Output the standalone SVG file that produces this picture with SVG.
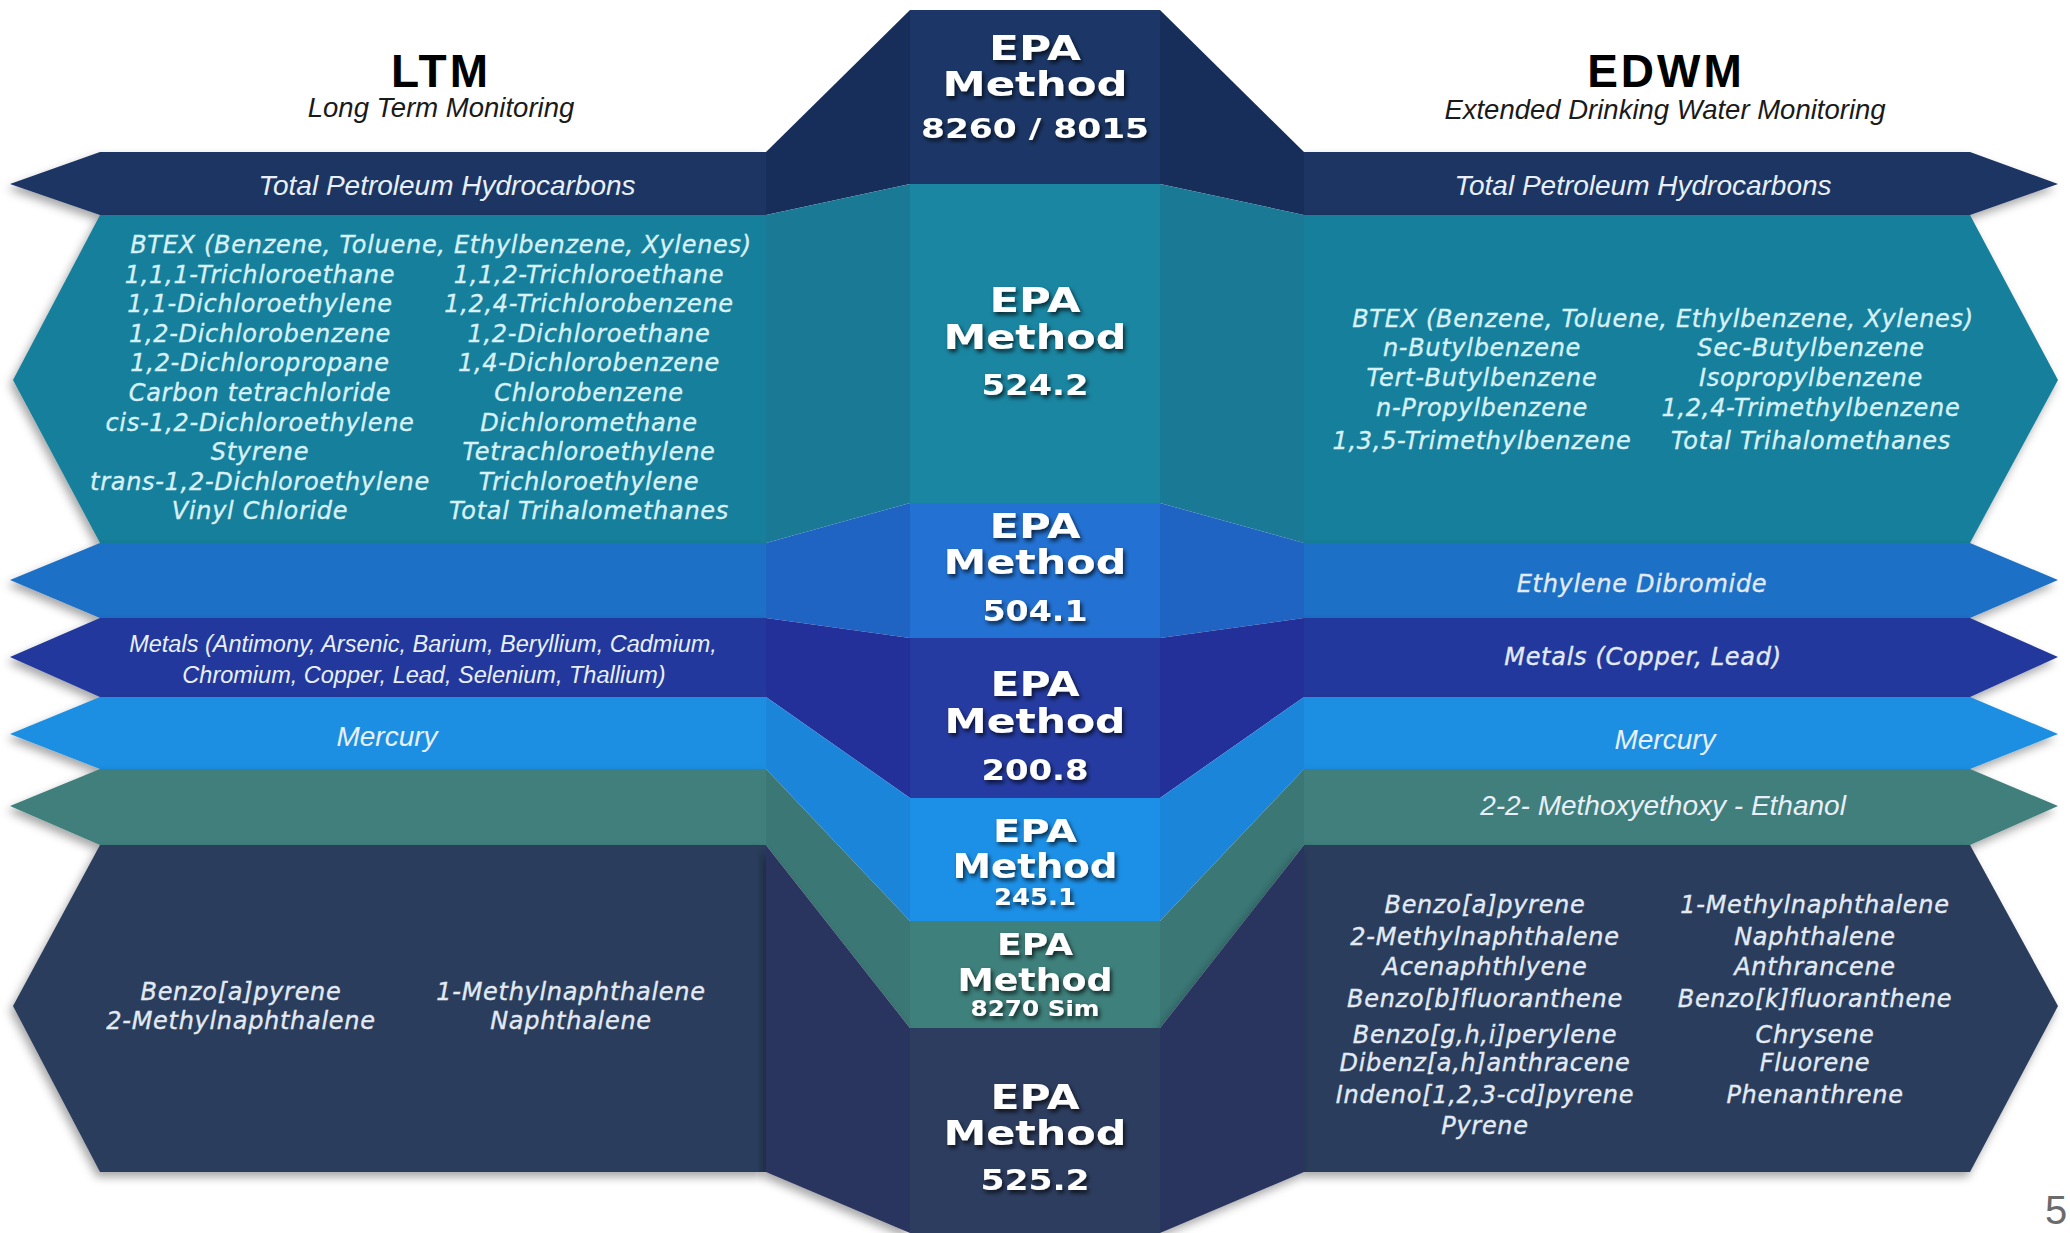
<svg xmlns="http://www.w3.org/2000/svg" width="2070" height="1233" viewBox="0 0 2070 1233">
<defs>
<filter id="bandShadow" x="-5%" y="-20%" width="110%" height="150%">
<feDropShadow dx="-3" dy="5" stdDeviation="5" flood-color="#000" flood-opacity="0.35"/>
</filter>
<filter id="txtShadow" x="-10%" y="-30%" width="125%" height="170%">
<feDropShadow dx="2" dy="3" stdDeviation="2" flood-color="#000" flood-opacity="0.7"/>
</filter>
<style>
.lst{font-family:"DejaVu Sans",Verdana,sans-serif;font-style:italic;font-size:24px;letter-spacing:0.7px;text-anchor:middle;fill:#d6f1f8;stroke:#d6f1f8;stroke-width:0.35px}
.lstd{font-family:"DejaVu Sans",Verdana,sans-serif;font-style:italic;font-size:24px;letter-spacing:0.7px;text-anchor:middle;fill:#e2eaf4;stroke:#e2eaf4;stroke-width:0.35px}
.lbl{font-family:"Liberation Sans",Arial,sans-serif;font-style:italic;font-size:28px;text-anchor:middle;fill:#e8eff8}
.ctr{font-family:"DejaVu Sans",Verdana,sans-serif;font-weight:bold;fill:#ffffff;text-anchor:middle;filter:url(#txtShadow)}
.title{font-family:"Liberation Sans",Arial,sans-serif;font-weight:bold;font-size:46px;fill:#000;text-anchor:middle;letter-spacing:3px}
.sub{font-family:"Liberation Sans",Arial,sans-serif;font-style:italic;font-size:27.5px;fill:#1a1a1a;text-anchor:middle}
.navy{fill:#1b3462}.navyS{fill:#172e5a}.navyC{fill:#1c3767}
.teal{fill:#197f9b}.tealS{fill:#1a7995}.tealC{fill:#1a86a2}
.blue{fill:#1e6fc6}.blueS{fill:#1f64c2}.blueC{fill:#2372d3}
.met{fill:#23389c}.metS{fill:#23309a}.metC{fill:#253ba1}
.merc{fill:#1a8fe2}.mercS{fill:#1b85da}.mercC{fill:#1c90e7}
.grn{fill:#3f7f7c}.grnS{fill:#3a7775}.grnC{fill:#3e807b}
.dark{fill:#2b3c5c}.darkS{fill:#2b365e}.darkC{fill:#2d3d5f}
.band{filter:url(#bandShadow)}
</style>
</defs>
<rect x="0" y="0" width="2070" height="1233" fill="#ffffff"/>

<g id="ltm-header">
<text class="title" x="441" y="87">LTM</text>
<text class="sub" x="441" y="117">Long Term Monitoring</text>
</g>
<g id="edwm-header">
<text class="title" x="1666" y="87">EDWM</text>
<text class="sub" x="1665" y="119">Extended Drinking Water Monitoring</text>
</g>

<g id="ltm-tph">
<polygon class="navy band" points="100,152 766,152 766,215 100,215 10,184"/>
<text class="lbl" x="447" y="195">Total Petroleum Hydrocarbons</text>
</g>
<g id="ltm-524">
<polygon class="teal band" points="100,215 766,215 766,543 100,543 13,380"/>
<text class="lst" x="441" y="253">BTEX (Benzene, Toluene, Ethylbenzene, Xylenes)</text>
<text class="lst" x="260" y="282.6">1,1,1-Trichloroethane</text>
<text class="lst" x="589" y="282.6">1,1,2-Trichloroethane</text>
<text class="lst" x="260" y="312.2">1,1-Dichloroethylene</text>
<text class="lst" x="589" y="312.2">1,2,4-Trichlorobenzene</text>
<text class="lst" x="260" y="341.8">1,2-Dichlorobenzene</text>
<text class="lst" x="589" y="341.8">1,2-Dichloroethane</text>
<text class="lst" x="260" y="371.4">1,2-Dichloropropane</text>
<text class="lst" x="589" y="371.4">1,4-Dichlorobenzene</text>
<text class="lst" x="260" y="401">Carbon tetrachloride</text>
<text class="lst" x="589" y="401">Chlorobenzene</text>
<text class="lst" x="260" y="430.6">cis-1,2-Dichloroethylene</text>
<text class="lst" x="589" y="430.6">Dichloromethane</text>
<text class="lst" x="260" y="460.2">Styrene</text>
<text class="lst" x="589" y="460.2">Tetrachloroethylene</text>
<text class="lst" x="260" y="489.8">trans-1,2-Dichloroethylene</text>
<text class="lst" x="589" y="489.8">Trichloroethylene</text>
<text class="lst" x="260" y="519.4">Vinyl Chloride</text>
<text class="lst" x="589" y="519.4">Total Trihalomethanes</text>
</g>
<g id="ltm-504">
<polygon class="blue band" points="100,543 766,543 766,618 100,618 10,580"/>
</g>
<g id="ltm-200">
<polygon class="met band" points="100,618 766,618 766,697 100,697 10,657"/>
<text class="lbl" x="423" y="652" style="font-size:23.5px">Metals (Antimony, Arsenic, Barium, Beryllium, Cadmium,</text>
<text class="lbl" x="424" y="683" style="font-size:23.5px">Chromium, Copper, Lead, Selenium, Thallium)</text>
</g>
<g id="ltm-245">
<polygon class="merc band" points="100,697 766,697 766,769 100,769 10,734"/>
<text class="lbl" x="387" y="746">Mercury</text>
</g>
<g id="ltm-8270">
<polygon class="grn band" points="100,769 766,769 766,845 100,845 10,806"/>
</g>
<g id="ltm-525">
<polygon class="dark band" points="100,845 766,845 766,1172 100,1172 13,1006"/>
<text class="lstd" x="241" y="1000">Benzo[a]pyrene</text>
<text class="lstd" x="241" y="1029">2-Methylnaphthalene</text>
<text class="lstd" x="571" y="1000">1-Methylnaphthalene</text>
<text class="lstd" x="571" y="1029">Naphthalene</text>
</g>

<g id="edwm-tph">
<polygon class="navy band" points="1304,152 1970,152 2058,184 1970,215 1304,215"/>
<text class="lbl" x="1643" y="195">Total Petroleum Hydrocarbons</text>
</g>
<g id="edwm-524">
<polygon class="teal band" points="1304,215 1970,215 2058,380 1970,543 1304,543"/>
<text class="lst" x="1663" y="326.5">BTEX (Benzene, Toluene, Ethylbenzene, Xylenes)</text>
<text class="lst" x="1482" y="355.5">n-Butylbenzene</text>
<text class="lst" x="1811" y="355.5">Sec-Butylbenzene</text>
<text class="lst" x="1482" y="385.5">Tert-Butylbenzene</text>
<text class="lst" x="1811" y="385.5">Isopropylbenzene</text>
<text class="lst" x="1482" y="415.5">n-Propylbenzene</text>
<text class="lst" x="1811" y="415.5">1,2,4-Trimethylbenzene</text>
<text class="lst" x="1482" y="448.5">1,3,5-Trimethylbenzene</text>
<text class="lst" x="1811" y="448.5">Total Trihalomethanes</text>
</g>
<g id="edwm-504">
<polygon class="blue band" points="1304,543 1970,543 2058,580 1970,618 1304,618"/>
<text class="lstd" x="1642" y="592">Ethylene Dibromide</text>
</g>
<g id="edwm-200">
<polygon class="met band" points="1304,618 1970,618 2058,657 1970,697 1304,697"/>
<text class="lstd" x="1643" y="665">Metals (Copper, Lead)</text>
</g>
<g id="edwm-245">
<polygon class="merc band" points="1304,697 1970,697 2058,734 1970,769 1304,769"/>
<text class="lbl" x="1665" y="749">Mercury</text>
</g>
<g id="edwm-8270">
<polygon class="grn band" points="1304,769 1970,769 2058,806 1970,845 1304,845"/>
<text class="lbl" x="1663" y="815">2-2- Methoxyethoxy - Ethanol</text>
</g>
<g id="edwm-525">
<polygon class="dark band" points="1304,845 1970,845 2058,1006 1970,1172 1304,1172"/>
<text class="lstd" x="1485" y="912.5">Benzo[a]pyrene</text>
<text class="lstd" x="1485" y="944.5">2-Methylnaphthalene</text>
<text class="lstd" x="1485" y="974.5">Acenaphthlyene</text>
<text class="lstd" x="1485" y="1006.5">Benzo[b]fluoranthene</text>
<text class="lstd" x="1485" y="1042.5">Benzo[g,h,i]perylene</text>
<text class="lstd" x="1485" y="1070.5">Dibenz[a,h]anthracene</text>
<text class="lstd" x="1485" y="1102.5">Indeno[1,2,3-cd]pyrene</text>
<text class="lstd" x="1485" y="1133.5">Pyrene</text>
<text class="lstd" x="1815" y="912.5">1-Methylnaphthalene</text>
<text class="lstd" x="1815" y="944.5">Naphthalene</text>
<text class="lstd" x="1815" y="974.5">Anthrancene</text>
<text class="lstd" x="1815" y="1006.5">Benzo[k]fluoranthene</text>
<text class="lstd" x="1815" y="1042.5">Chrysene</text>
<text class="lstd" x="1815" y="1070.5">Fluorene</text>
<text class="lstd" x="1815" y="1102.5">Phenanthrene</text>
</g>

<g id="epa-8260">
<polygon class="navyS" points="766,152 910,10 910,184 766,215"/>
<polygon class="navyS" points="1160,10 1304,152 1304,215 1160,184"/>
<rect class="navyC" x="910" y="10" width="250" height="174"/>
<text class="ctr" x="1035" y="60" font-size="34" textLength="92" lengthAdjust="spacingAndGlyphs">EPA</text>
<text class="ctr" x="1035" y="96" font-size="34" textLength="185" lengthAdjust="spacingAndGlyphs">Method</text>
<text class="ctr" x="1035" y="138" font-size="26" textLength="228" lengthAdjust="spacingAndGlyphs">8260 / 8015</text>
</g>
<g id="epa-524">
<polygon class="tealS" points="766,215 910,184 910,503 766,543"/>
<polygon class="tealS" points="1160,184 1304,215 1304,543 1160,503"/>
<rect class="tealC" x="910" y="184" width="250" height="319"/>
<text class="ctr" x="1035" y="312" font-size="34" textLength="91" lengthAdjust="spacingAndGlyphs">EPA</text>
<text class="ctr" x="1035" y="349" font-size="34" textLength="183" lengthAdjust="spacingAndGlyphs">Method</text>
<text class="ctr" x="1035" y="395" font-size="29" textLength="107" lengthAdjust="spacingAndGlyphs">524.2</text>
</g>
<g id="epa-504">
<polygon class="blueS" points="766,543 910,503 910,638 766,618"/>
<polygon class="blueS" points="1160,503 1304,543 1304,618 1160,638"/>
<rect class="blueC" x="910" y="503" width="250" height="135"/>
<text class="ctr" x="1035" y="538" font-size="34" textLength="91" lengthAdjust="spacingAndGlyphs">EPA</text>
<text class="ctr" x="1035" y="574" font-size="34" textLength="183" lengthAdjust="spacingAndGlyphs">Method</text>
<text class="ctr" x="1035" y="621" font-size="29" textLength="105" lengthAdjust="spacingAndGlyphs">504.1</text>
</g>
<g id="epa-200">
<polygon class="metS" points="766,618 910,638 910,798 766,697"/>
<polygon class="metS" points="1160,638 1304,618 1304,697 1160,798"/>
<rect class="metC" x="910" y="638" width="250" height="160"/>
<text class="ctr" x="1035" y="696" font-size="34" textLength="89" lengthAdjust="spacingAndGlyphs">EPA</text>
<text class="ctr" x="1035" y="733" font-size="34" textLength="181" lengthAdjust="spacingAndGlyphs">Method</text>
<text class="ctr" x="1035" y="780" font-size="29" textLength="107" lengthAdjust="spacingAndGlyphs">200.8</text>
</g>
<g id="epa-245">
<polygon class="mercS" points="766,697 910,798 910,921 766,769"/>
<polygon class="mercS" points="1160,798 1304,697 1304,769 1160,921"/>
<rect class="mercC" x="910" y="798" width="250" height="123"/>
<text class="ctr" x="1035" y="842" font-size="32" textLength="84" lengthAdjust="spacingAndGlyphs">EPA</text>
<text class="ctr" x="1035" y="878" font-size="33" textLength="165" lengthAdjust="spacingAndGlyphs">Method</text>
<text class="ctr" x="1035" y="905" font-size="23" textLength="82" lengthAdjust="spacingAndGlyphs">245.1</text>
</g>
<g id="epa-8270">
<polygon class="grnS" points="766,769 910,921 910,1028 766,845"/>
<polygon class="grnS" points="1160,921 1304,769 1304,845 1160,1028"/>
<rect class="grnC" x="910" y="921" width="250" height="107"/>
<text class="ctr" x="1035" y="955" font-size="31" textLength="76" lengthAdjust="spacingAndGlyphs">EPA</text>
<text class="ctr" x="1035" y="991" font-size="32" textLength="155" lengthAdjust="spacingAndGlyphs">Method</text>
<text class="ctr" x="1035" y="1016" font-size="22" textLength="129" lengthAdjust="spacingAndGlyphs">8270 Sim</text>
</g>
<g id="epa-525">
<polygon class="darkS band" points="766,845 910,1028 910,1233 766,1172"/>
<polygon class="darkS band" points="1160,1028 1304,845 1304,1172 1160,1233"/>
<rect class="darkC" x="910" y="1028" width="250" height="205"/>
<text class="ctr" x="1035" y="1109" font-size="34" textLength="89" lengthAdjust="spacingAndGlyphs">EPA</text>
<text class="ctr" x="1035" y="1145" font-size="34" textLength="183" lengthAdjust="spacingAndGlyphs">Method</text>
<text class="ctr" x="1035" y="1190" font-size="29" textLength="109" lengthAdjust="spacingAndGlyphs">525.2</text>
</g>

<text x="2045" y="1224" font-family="Liberation Sans, Arial, sans-serif" font-size="40" fill="#6b6b6b">5</text>
</svg>
